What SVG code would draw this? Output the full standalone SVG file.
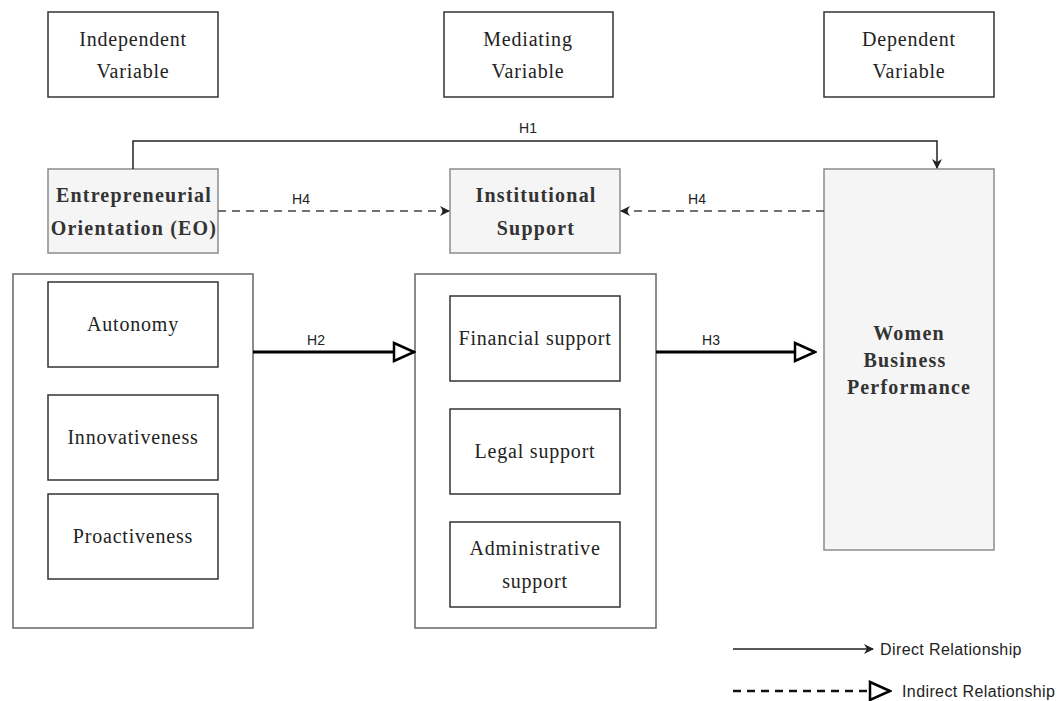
<svg xmlns="http://www.w3.org/2000/svg" width="1058" height="701" viewBox="0 0 1058 701">
<style>
.box{fill:#ffffff;stroke:#333333;stroke-width:1.5}
.gbox{fill:#f5f5f5;stroke:#8c8c8c;stroke-width:1.5}
.cont{fill:#ffffff;stroke:#666666;stroke-width:1.5}
.t{font-family:"Liberation Serif",serif;font-size:20px;letter-spacing:0.8px;fill:#222222;text-anchor:middle}
.tb{font-family:"Liberation Serif",serif;font-size:20px;letter-spacing:1.2px;font-weight:bold;fill:#333333;text-anchor:middle}
.lab{font-family:"Liberation Sans",Arial,sans-serif;font-size:14px;fill:#222222;text-anchor:middle}
.leg{font-family:"Liberation Sans",Arial,sans-serif;font-size:16px;letter-spacing:0.4px;fill:#222222}
.solid{fill:none;stroke:#222222;stroke-width:1.5}
.thick{fill:none;stroke:#000000;stroke-width:3}
.dash{fill:none;stroke:#444444;stroke-width:1.5;stroke-dasharray:8,6}
.dashk{fill:none;stroke:#111111;stroke-width:2.5;stroke-dasharray:8,6}
</style>
<defs>
<marker id="arr" markerWidth="10" markerHeight="10" refX="9" refY="5" orient="auto" markerUnits="userSpaceOnUse">
<path d="M0,0 L10,5 L0,10 L3,5 Z" fill="#222222"/>
</marker>
<marker id="tri" markerWidth="24" markerHeight="22" refX="22" refY="11" orient="auto" markerUnits="userSpaceOnUse">
<path d="M2,2 L22,11 L2,20 Z" fill="#ffffff" stroke="#000000" stroke-width="2.5"/>
</marker>
</defs>
<rect width="1058" height="701" fill="#ffffff"/>

<g id="header-independent"><rect class="box" x="48" y="12" width="170" height="85"/><text class="t" x="133" y="46">Independent</text><text class="t" x="133" y="78">Variable</text></g>
<g id="header-mediating"><rect class="box" x="444" y="12" width="169" height="85"/><text class="t" x="528" y="46">Mediating</text><text class="t" x="528" y="78">Variable</text></g>
<g id="header-dependent"><rect class="box" x="824" y="12" width="170" height="85"/><text class="t" x="909" y="46">Dependent</text><text class="t" x="909" y="78">Variable</text></g>

<g id="eo"><rect class="gbox" x="48" y="169" width="170" height="84"/><text class="tb" x="134" y="202">Entrepreneurial</text><text class="tb" x="134" y="235">Orientation (EO)</text></g>
<g id="institutional"><rect class="gbox" x="450" y="169" width="170" height="84"/><text class="tb" x="536" y="202">Institutional</text><text class="tb" x="536" y="235">Support</text></g>
<g id="wbp"><rect class="gbox" x="824" y="169" width="170" height="381"/><text class="tb" x="909" y="340">Women</text><text class="tb" x="905" y="367">Business</text><text class="tb" x="909" y="394">Performance</text></g>

<g id="eo-container"><rect class="cont" x="13" y="274" width="240" height="354"/></g>
<g id="autonomy"><rect class="box" x="48" y="282" width="170" height="85"/><text class="t" x="133" y="331">Autonomy</text></g>
<g id="innovativeness"><rect class="box" x="48" y="395" width="170" height="85"/><text class="t" x="133" y="444">Innovativeness</text></g>
<g id="proactiveness"><rect class="box" x="48" y="494" width="170" height="85"/><text class="t" x="133" y="543">Proactiveness</text></g>

<g id="is-container"><rect class="cont" x="415" y="274" width="241" height="354"/></g>
<g id="financial"><rect class="box" x="450" y="296" width="170" height="85"/><text class="t" x="535" y="345">Financial support</text></g>
<g id="legal"><rect class="box" x="450" y="409" width="170" height="85"/><text class="t" x="535" y="458">Legal support</text></g>
<g id="administrative"><rect class="box" x="450" y="522" width="170" height="85"/><text class="t" x="535" y="555">Administrative</text><text class="t" x="535" y="588">support</text></g>

<g id="connectors">
<path class="solid" d="M133,169 V141 H937 V168" marker-end="url(#arr)"/>
<text class="lab" x="528" y="133">H1</text>
<path class="dash" d="M218,211 H449" marker-end="url(#arr)"/>
<text class="lab" x="301" y="204">H4</text>
<path class="dash" d="M824,211 H621" marker-end="url(#arr)"/>
<text class="lab" x="697" y="204">H4</text>
<path class="thick" d="M253,352 H414" marker-end="url(#tri)"/>
<text class="lab" x="316" y="345">H2</text>
<path class="thick" d="M656,352 H815" marker-end="url(#tri)"/>
<text class="lab" x="711" y="345">H3</text>
</g>

<g id="legend">
<path class="solid" d="M733,649 H873" marker-end="url(#arr)"/>
<text class="leg" x="880" y="655">Direct Relationship</text>
<path class="dashk" d="M733,691 H890" marker-end="url(#tri)"/>
<text class="leg" x="902" y="697">Indirect Relationship</text>
</g>
</svg>
